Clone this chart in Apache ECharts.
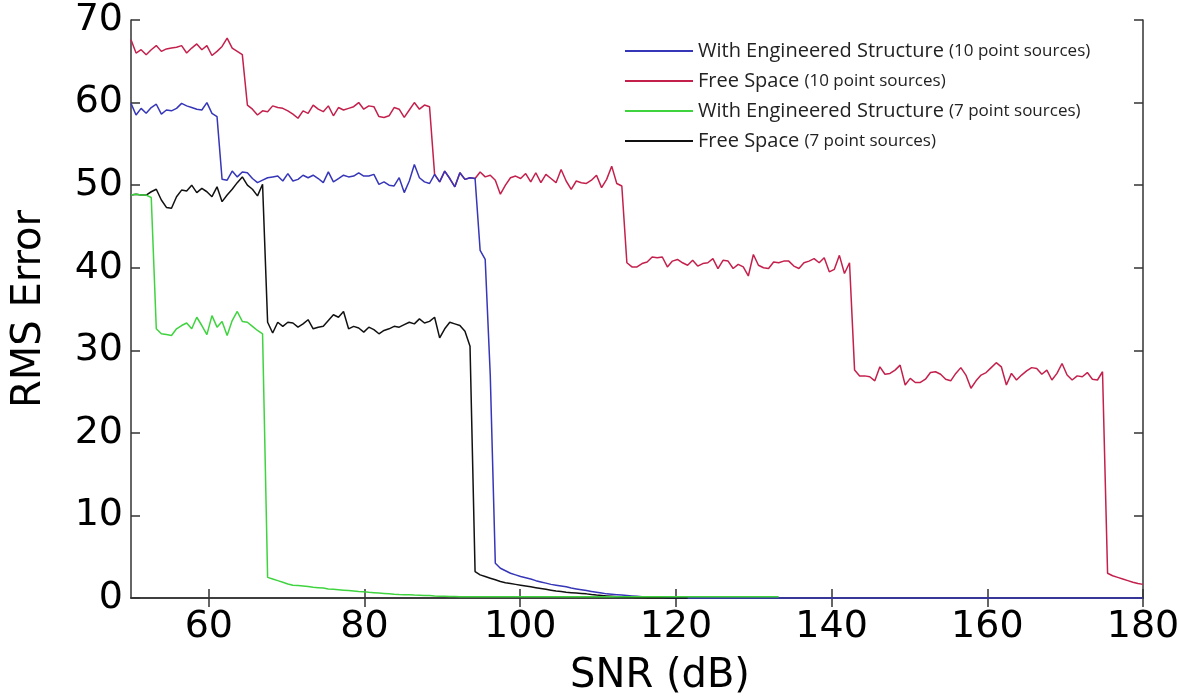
<!DOCTYPE html>
<html><head><meta charset="utf-8">
<script src="https://cdn.jsdelivr.net/npm/echarts@6/dist/echarts.min.js"></script>
<style>html,body{margin:0;padding:0;background:#fff}#c{width:1179px;height:700px}</style>
</head><body><div id="c"></div>
<script>
// SNR sampling grid (dB)
const snrStart = 50, snrStep = 0.65;
const xTicks = [60, 80, 100, 120, 140, 160, 180];
const yMin = 0, yMax = 70, yStep = 10;

const seriesNames = [
  'With Engineered Structure (10 point sources)',
  'Free Space (10 point sources)',
  'With Engineered Structure (7 point sources)',
  'Free Space (7 point sources)'
];

// With Engineered Structure (10 point sources)
const blue10 = [
  59.9, 58.5, 59.3, 58.7, 59.4, 59.8, 58.6, 59.1, 59.0, 59.3, 59.9, 59.6, 59.4, 59.2, 59.1, 60.0, 58.7, 58.3,
  50.7, 50.6, 51.7, 51.0, 51.6, 51.5, 50.8, 50.3, 50.6, 50.9, 51.0, 51.1, 50.5, 51.4, 50.5, 50.7, 51.2, 50.9,
  51.2, 50.8, 50.3, 51.6, 50.4, 50.8, 51.2, 51.0, 51.1, 51.5, 51.1, 51.1, 51.3, 50.1, 50.4, 50.0, 49.9, 50.9,
  49.1, 50.5, 52.5, 50.9, 50.4, 50.2,
  51.3, 50.4, 51.7, 50.8, 49.8, 51.5, 50.7, 50.9, 50.8,
  42.1, 41.0, 27.0, 4.2, 3.6,
  3.3, 3.0, 2.8, 2.6, 2.45, 2.3, 2.1, 1.95, 1.8, 1.65, 1.55, 1.45, 1.35, 1.2, 1.1, 1.0, 0.9, 0.8, 0.7, 0.6,
  0.5, 0.45, 0.4, 0.35, 0.3, 0.25, 0.2, 0.15, 0.12, 0.1, 0.08, 0.05, 0.03,
  0,0,0,0,0,0,0,0,0,0, 0,0,0,0,0,0,0,0,0,0, 0,0,0,0,0,0,0,0,0,0, 0,0,0,0,0,0,0,0,0,0,
  0,0,0,0,0,0,0,0,0,0, 0,0,0,0,0,0,0,0,0,0, 0,0,0,0,0,0,0,0,0,0, 0,0,0,0,0,0,0,0,0,0,
  0,0,0,0,0,0,0,0,0,0, 0,0,0,0
];

// Free Space (10 point sources)
const red10 = [
  67.6, 66.0, 66.4, 65.8, 66.4, 66.9, 66.2, 66.5, 66.6, 66.7, 66.9, 66.0, 66.6, 67.1, 66.4, 66.9, 65.7, 66.2,
  66.8, 67.8, 66.6, 66.2, 65.8,
  59.7, 59.2, 58.5, 59.0, 58.9, 59.6, 59.4, 59.3, 59.0, 58.6, 58.1, 59.0, 58.7, 59.7, 59.2, 58.9, 59.6, 58.4,
  59.4, 59.1, 59.3, 59.5, 60.0, 59.2, 59.6, 59.5, 58.3, 58.2, 58.4, 59.4, 59.2, 58.2, 59.1, 60.0, 59.2, 59.7, 59.5,
  51.3, 50.4, 51.7, 50.8, 49.8, 51.5, 50.7, 50.9, 50.8,
  51.6, 51.0, 51.2, 50.6, 48.9, 50.0, 50.9, 51.1, 50.8, 51.4, 50.4, 51.5, 50.3, 51.3, 50.8, 50.3, 51.9, 50.5,
  49.5, 50.5, 50.3, 50.2, 50.6, 51.2, 49.7, 50.7, 52.3, 50.2, 49.9,
  40.6, 40.1, 40.1, 40.5, 40.7, 41.3, 41.2, 41.3, 40.1, 40.8, 41.0, 40.6, 40.3, 40.9, 40.2, 40.5, 40.6, 41.1,
  39.9, 40.9, 40.8, 39.9, 40.4, 40.1, 39.0, 41.6, 40.3, 40.0, 39.9, 40.7, 40.6, 40.8, 40.8, 40.2, 39.9, 40.6,
  40.8, 41.1, 40.6, 41.2, 39.5, 39.8, 41.5, 39.3, 40.6,
  27.6, 26.9, 26.9, 26.8, 26.3, 28.0, 27.1, 27.2, 27.6, 28.2, 25.8, 26.6, 26.1, 26.1, 26.5, 27.3, 27.4, 27.1,
  26.5, 26.3, 27.2, 27.9, 27.0, 25.4, 26.3, 27.0, 27.3, 27.9, 28.5, 28.0, 25.8, 27.2, 26.4, 27.0, 27.5, 27.9,
  27.8, 27.1, 27.6, 26.4, 27.2, 28.4, 27.0, 26.4, 26.9, 26.8, 27.3, 26.5, 26.4, 27.4,
  3.0, 2.7, 2.5, 2.3, 2.1, 1.9, 1.75, 1.65
];

// With Engineered Structure (7 point sources)
const green7 = [
  48.8, 48.9, 48.8, 48.8, 48.5,
  32.6, 32.0, 31.9, 31.8, 32.6, 33.0, 33.3, 32.6, 34.0, 33.0, 31.9, 34.2, 32.8, 33.5, 31.8, 33.6, 34.7, 33.5,
  33.4, 32.9, 32.4, 32.0,
  2.5, 2.3, 2.1, 1.9, 1.7, 1.55, 1.5, 1.45, 1.4, 1.3, 1.25, 1.2, 1.1, 1.05, 1.0, 0.95, 0.9, 0.85, 0.8, 0.77,
  0.7, 0.65, 0.6, 0.55, 0.5, 0.45, 0.42, 0.4, 0.38, 0.35, 0.33, 0.3, 0.3, 0.25, 0.22, 0.2, 0.18, 0.17, 0.16, 0.15,
  0.15,0.15,0.15,0.15,0.15,0.15,0.15,0.15,0.15,0.15, 0.15,0.15,0.15,0.15,0.15,0.15,0.15,0.15,0.15,0.15,
  0.15,0.15,0.15,0.15,0.15,0.15,0.15,0.15,0.15,0.15, 0.15,0.15,0.15,0.15,0.15,0.15,0.15,0.15,0.15,0.15,
  0.15,0.15,0.15,0.15,0.15,0.15,0.15,0.15,0.15,0.15, 0.15,0.15,0.15,0.15,0.15,0.15,0.15,0.15,0.15,0.15,
  0.15,0.15
];

// Free Space (7 point sources)
const black7 = [
  48.8, 48.9, 48.8, 48.8, 49.2, 49.5, 48.2, 47.3, 47.2, 48.6, 49.4, 49.3, 50.0, 49.1, 49.6, 49.2, 48.6, 49.8,
  48.0, 48.8, 49.5, 50.3, 51.0, 50.0, 49.5, 48.7, 50.1,
  33.4, 32.1, 33.4, 32.9, 33.4, 33.3, 32.8, 33.2, 33.7, 32.6, 32.8, 32.9, 33.6, 34.3, 34.0, 34.7, 32.6, 32.9,
  32.7, 32.2, 32.8, 32.5, 32.0, 32.4, 32.6, 32.9, 32.8, 33.1, 33.4, 33.2, 33.8, 33.3, 33.5, 34.0, 31.5, 32.6,
  33.4, 33.2, 33.0, 32.3, 30.5,
  3.2, 2.8, 2.6, 2.4, 2.2, 2.0, 1.85, 1.75, 1.65, 1.55, 1.45, 1.35, 1.25, 1.15, 1.05, 0.95, 0.85, 0.78, 0.7,
  0.65, 0.6, 0.55, 0.5, 0.42, 0.35, 0.3, 0.25, 0.2, 0.15, 0.12, 0.1, 0.08, 0.05, 0.05, 0.04, 0.03, 0.02, 0.02,
  0.01, 0.01, 0, 0, 0
];

const colors = ['#3636b8', '#c4204c', '#3fd43f', '#111111'];
const zOrder = [3, 2, 5, 4];
const valueSets = [blue10, red10, green7, black7];

function pairs(vals) {
  return vals.map((v, i) => [+(snrStart + i * snrStep).toFixed(2), v]);
}

const axisLineStyle = { color: '#333', width: 1.5 };
const tickFont = { fontFamily: 'DejaVu Sans', fontSize: 38, color: '#000' };

const chart = echarts.init(document.getElementById('c'), null, { renderer: 'canvas' });
chart.setOption({
  animation: false,
  backgroundColor: '#fff',
  grid: { left: 131, right: 36, top: 20, bottom: 102, containLabel: false, outerBoundsMode: 'none' },
  legend: {
    orient: 'vertical', left: 620, top: 36,
    itemWidth: 68, itemHeight: 2, itemGap: 10, icon: 'rect',
    data: seriesNames,
    formatter: function (name) {
      const i = name.indexOf(' (');
      return '{a|' + name.slice(0, i) + '} {b|' + name.slice(i + 1) + '}';
    },
    textStyle: {
      fontFamily: 'Open Sans', fontSize: 20, color: '#222',
      rich: {
        a: { fontFamily: 'Open Sans', fontSize: 20, color: '#222' },
        b: { fontFamily: 'Open Sans', fontSize: 17, color: '#222' }
      }
    }
  },
  xAxis: [
    {
      type: 'value', min: 50, max: 180, position: 'bottom',
      name: 'SNR (dB)', nameLocation: 'middle', nameGap: 59,
      nameTextStyle: { fontFamily: 'DejaVu Sans', fontSize: 40, color: '#000', padding: [0, 0, 0, 46] },
      axisLine: { show: true, lineStyle: axisLineStyle },
      axisTick: { show: true, inside: true, length: 9, customValues: xTicks, lineStyle: axisLineStyle },
      axisLabel: Object.assign({ margin: 10, customValues: xTicks }, tickFont),
      splitLine: { show: false }
    },
    {
      type: 'value', min: 50, max: 180, position: 'top',
      axisLine: { show: true, lineStyle: axisLineStyle },
      axisTick: { show: true, inside: true, length: 9, customValues: xTicks, lineStyle: axisLineStyle },
      axisLabel: { show: false },
      splitLine: { show: false }
    }
  ],
  yAxis: [
    {
      type: 'value', min: yMin, max: yMax, interval: yStep, position: 'left',
      name: 'RMS Error', nameLocation: 'middle', nameGap: 81, nameRotate: 90,
      nameTextStyle: { fontFamily: 'DejaVu Sans', fontSize: 40, color: '#000' },
      axisLine: { show: true, lineStyle: axisLineStyle },
      axisTick: { show: true, inside: true, length: 9, lineStyle: axisLineStyle },
      axisLabel: Object.assign({ margin: 8 }, tickFont),
      splitLine: { show: false }
    },
    {
      type: 'value', min: yMin, max: yMax, interval: yStep, position: 'right',
      axisLine: { show: true, lineStyle: axisLineStyle },
      axisTick: { show: true, inside: true, length: 9, lineStyle: axisLineStyle },
      axisLabel: { show: false },
      splitLine: { show: false }
    }
  ],
  series: seriesNames.map((n, k) => ({
    name: n, type: 'line', xAxisIndex: 0, yAxisIndex: 0,
    data: pairs(valueSets[k]),
    symbol: 'none', showSymbol: false, clip: false, z: zOrder[k],
    color: colors[k],
    lineStyle: { color: colors[k], width: 1.5 }
  }))
});
</script>
</body></html>
